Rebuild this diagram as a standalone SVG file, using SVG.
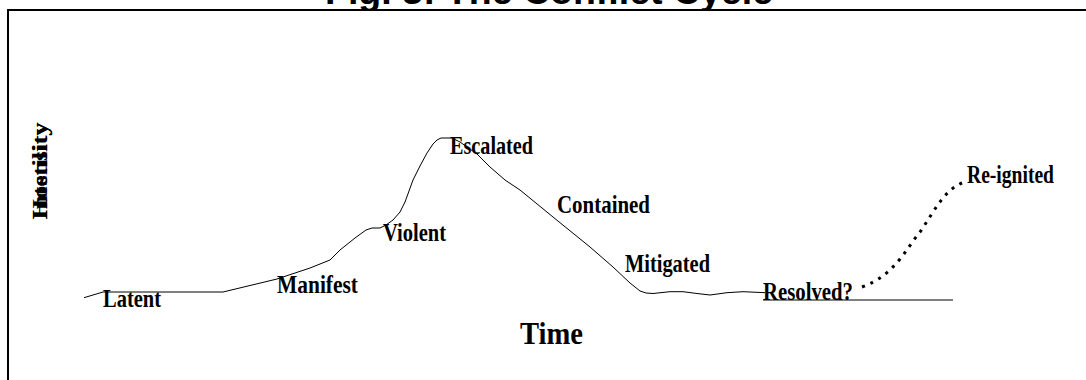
<svg xmlns="http://www.w3.org/2000/svg" width="1086" height="380" viewBox="0 0 1086 380">
  <style>
    .title { font-family: "Liberation Sans", Arial, sans-serif; font-weight: bold; font-size: 37.5px; fill: #000; }
    .lbl { font-family: "Liberation Serif", "Times New Roman", serif; font-weight: bold; font-size: 25px; fill: #000; }
    .axis { font-family: "Liberation Serif", "Times New Roman", serif; font-weight: bold; fill: #000; }
    .curve { fill: none; stroke: #000; stroke-width: 1; stroke-linejoin: round; }
    .base { fill: none; stroke: #000; stroke-width: 1; }
    .dotted { fill: none; stroke: #000; stroke-width: 3; stroke-dasharray: 3 6; }
  </style>
  <rect width="1086" height="380" fill="#fff"/>
  <text class="title" x="549" y="4" text-anchor="middle">Fig. 3: The Conflict Cycle</text>
  <rect id="frame" x="8" y="10" width="1100" height="400" fill="#fff" stroke="#000" stroke-width="2"/>

  <g id="connectors">
    <path class="curve" d="M84,297.7 L103,292 L223,292 L277,279 L310,268 L330,260 L340,250 L355,238 L366,230 L372,228 L380,228 L386,225 L393,220 L400,212 L405,202 L413,180 L420,166 L427,153 L433,144 L437,140 L441,138 L452,138 L460,142 L477,154 L490,167 L505,180 L520,190 L553,217 L590,247 L613,267 L630,283 L640,291 L646,293 L653,293.5 L670,291.7 L683,291.7 L697,293.5 L710,295 L727,292.7 L743,291.7 L765,292.7"/>
    <path class="base" d="M763,300 L953,300"/>
    <path class="dotted" d="M862,287 C895,275 905,250 920,232 C935,210 945,188 965,182"/>
  </g>

  <g id="axis-y">
    <text class="axis" font-size="20" text-anchor="middle" transform="translate(47,171) rotate(-90)" textLength="97" lengthAdjust="spacingAndGlyphs">Intensity</text>
    <text class="axis" font-size="20" text-anchor="middle" transform="translate(47,171) rotate(-90)" textLength="97" lengthAdjust="spacingAndGlyphs">Hostility</text>
  </g>
  <g id="axis-x">
    <text class="axis" font-size="31" x="520" y="344" textLength="63" lengthAdjust="spacingAndGlyphs">Time</text>
  </g>

  <g id="latent"><text class="lbl" x="103" y="306.5" textLength="58" lengthAdjust="spacingAndGlyphs">Latent</text></g>
  <g id="manifest"><text class="lbl" x="277" y="293.3" textLength="81" lengthAdjust="spacingAndGlyphs">Manifest</text></g>
  <g id="violent"><text class="lbl" x="383" y="240.7" textLength="63" lengthAdjust="spacingAndGlyphs">Violent</text></g>
  <g id="escalated"><text class="lbl" x="450" y="154.3" textLength="83" lengthAdjust="spacingAndGlyphs">Escalated</text></g>
  <g id="contained"><text class="lbl" x="557" y="213.3" textLength="93" lengthAdjust="spacingAndGlyphs">Contained</text></g>
  <g id="mitigated"><text class="lbl" x="625" y="271.7" textLength="85" lengthAdjust="spacingAndGlyphs">Mitigated</text></g>
  <g id="resolved"><text class="lbl" x="763" y="300" textLength="90" lengthAdjust="spacingAndGlyphs">Resolved?</text></g>
  <g id="reignited"><text class="lbl" x="967" y="183.3" textLength="87" lengthAdjust="spacingAndGlyphs">Re-ignited</text></g>
</svg>
